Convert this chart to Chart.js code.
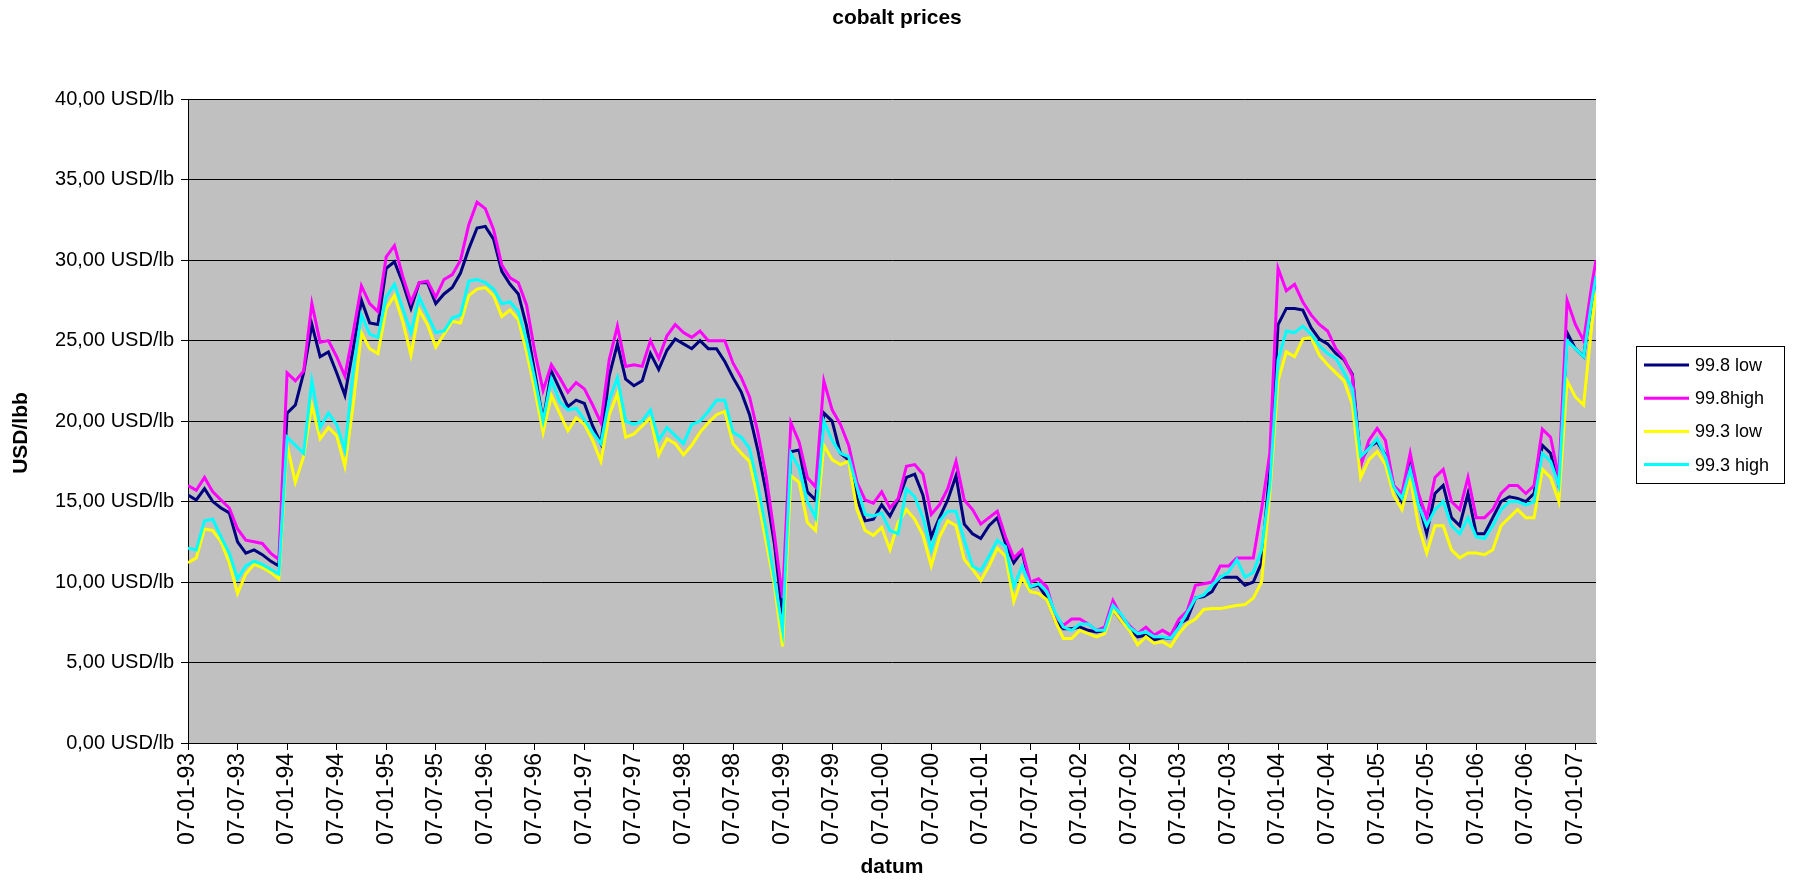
<!DOCTYPE html>
<html>
<head>
<meta charset="utf-8">
<title>cobalt prices</title>
<script src="https://cdn.jsdelivr.net/npm/chart.js@4.4.1/dist/chart.umd.min.js"></script>
<style>
  html, body { margin: 0; padding: 0; background: #fff; }
  #wrap { width: 1794px; height: 880px; }
</style>
</head>
<body>
<div id="wrap"><canvas id="chart" width="1794" height="880"></canvas></div>
<script>
// cobalt prices, monthly readings (month 0 = 07-01-93)
const seriesNames = ['99.8 low', '99.8high', '99.3 low', '99.3 high'];
const seriesColors = ['#000080', '#FF00FF', '#FFFF00', '#00FFFF'];

// month index of every reading, the last one is the final week shown
const months = [...Array(171).keys(), 170.5];

const low998 = [
  15.4, 15.1, 15.8, 15.0, 14.6, 14.3, 12.5, 11.8, 12.0, 11.7, 11.3, 11.0,
  20.5, 21.0, 23.0, 26.0, 24.0, 24.3, 23.0, 21.6, 24.5, 27.5, 26.1, 26.0,
  29.5, 29.9, 28.6, 27.0, 28.6, 28.6, 27.3, 27.9, 28.3, 29.2, 30.7, 32.0,
  32.1, 31.3, 29.3, 28.5, 27.9, 25.9, 23.0, 20.0, 23.1, 22.0, 20.9, 21.3,
  21.1, 19.7, 18.6, 22.8, 24.8, 22.6, 22.2, 22.5, 24.2, 23.2, 24.4, 25.1,
  24.8, 24.5, 25.0, 24.5, 24.5, 23.7, 22.7, 21.8, 20.4, 18.2, 15.6, 12.4,
  8.0, 18.1, 18.2, 15.6, 15.1, 20.5, 20.0, 18.0, 17.6, 15.2, 13.8, 13.9,
  14.8, 14.1, 15.1, 16.5, 16.7, 15.4, 12.8, 14.0, 15.1, 16.6, 13.6, 13.0,
  12.7, 13.5, 14.0, 12.4, 11.2, 11.9, 9.7, 9.8, 9.0, 7.6, 7.1, 7.1,
  7.2, 7.0, 6.9, 7.0, 8.3, 7.6, 7.1, 6.6, 6.7, 6.4, 6.55, 6.5,
  7.4, 7.7, 9.0, 9.1, 9.4, 10.3, 10.3, 10.3, 9.8, 10.0, 11.2, 17.0,
  26.0, 27.0, 27.0, 26.9, 25.8, 25.1, 24.8, 24.2, 23.8, 22.9, 17.5, 18.4,
  18.7, 17.9, 16.0, 15.0, 17.3, 15.0, 13.0, 15.5, 16.0, 14.0, 13.5, 15.5,
  13.0, 13.0, 14.0, 15.0, 15.3, 15.2, 15.0, 15.5, 18.5, 18.0, 16.0, 25.5,
  24.5, 24.0, 27.5, 29.0
];

const high998 = [
  16.0, 15.7, 16.5, 15.6, 15.1, 14.6, 13.3, 12.6, 12.5, 12.4, 11.8, 11.4,
  23.0, 22.5, 23.1, 27.3, 24.9, 25.0, 24.0, 22.8, 25.5, 28.4, 27.3, 26.8,
  30.2, 30.9, 29.0, 27.4, 28.6, 28.7, 27.7, 28.8, 29.1, 30.0, 32.2, 33.6,
  33.2, 31.9, 29.7, 28.9, 28.6, 27.2, 24.3, 21.9, 23.5, 22.7, 21.8, 22.4,
  22.0, 21.0, 19.9, 23.8, 25.9, 23.4, 23.5, 23.4, 25.0, 23.9, 25.3, 26.0,
  25.5, 25.2, 25.6, 25.0, 25.0, 25.0, 23.6, 22.7, 21.5, 19.3, 16.6, 13.0,
  9.0, 19.9, 18.7, 16.5, 15.9, 22.5, 20.7, 19.8, 18.5, 16.2, 15.1, 14.9,
  15.6, 14.6, 15.2, 17.2, 17.3, 16.7, 14.2, 14.8, 15.8, 17.5, 15.1, 14.5,
  13.6, 14.0, 14.4, 12.8, 11.5, 12.0, 10.0, 10.2, 9.7, 7.9, 7.3, 7.7,
  7.7, 7.4, 7.0, 7.2, 8.85, 7.9, 7.3, 6.8, 7.2, 6.7, 7.0, 6.7,
  7.7, 8.2, 9.8, 9.9, 10.0, 11.0, 11.0, 11.5, 11.5, 11.5, 14.5, 18.0,
  29.5, 28.1, 28.5, 27.4, 26.6, 26.0, 25.6, 24.5, 23.9, 22.8, 17.2, 18.8,
  19.55, 18.8, 16.0, 15.5, 18.0, 15.5, 14.0, 16.5, 17.0, 15.0, 14.5, 16.5,
  14.0, 14.0, 14.5, 15.5, 16.0, 16.0, 15.5, 16.0, 19.5, 19.0, 16.5, 27.5,
  26.0, 25.0, 28.5, 30.0
];

const low993 = [
  11.2, 11.5, 13.3, 13.2, 12.5, 11.2, 9.3, 10.5, 11.1, 10.9, 10.6, 10.2,
  18.5, 16.2, 17.8, 21.0, 18.9, 19.6, 19.1, 17.2, 21.0, 25.5, 24.5, 24.2,
  27.0, 27.8, 26.2, 24.1, 26.9, 26.0, 24.6, 25.4, 26.2, 26.1, 27.8, 28.2,
  28.3, 27.8, 26.5, 26.9, 26.3, 24.3, 21.9, 19.3, 21.6, 20.5, 19.4, 20.2,
  19.8, 18.8, 17.5, 20.4, 21.7, 19.0, 19.2, 19.7, 20.2, 17.9, 18.9, 18.6,
  17.9, 18.5, 19.3, 19.9, 20.4, 20.6, 18.6, 18.0, 17.5, 15.2, 12.5, 9.8,
  6.0, 16.6, 16.2, 13.7, 13.2, 18.5, 17.6, 17.3, 17.5, 14.5, 13.2, 12.9,
  13.4, 12.0, 13.7, 14.5, 13.9, 12.9, 11.0, 12.8, 13.8, 13.5, 11.4, 10.8,
  10.1, 11.0, 12.1, 11.6, 8.8, 10.3, 9.4, 9.3, 8.9, 7.6, 6.5, 6.5,
  7.0, 6.8, 6.6, 6.8, 8.3, 7.6, 7.0, 6.1, 6.6, 6.2, 6.3, 6.0,
  6.8, 7.4, 7.7, 8.3, 8.35, 8.35, 8.45, 8.55, 8.6, 9.0, 10.0, 15.5,
  22.5, 24.3, 24.0, 25.1, 25.2, 24.1, 23.5, 23.0, 22.5, 21.0, 16.5, 17.6,
  18.1, 17.3, 15.4, 14.5, 16.5, 13.5, 11.8, 13.5, 13.5, 12.0, 11.5, 11.8,
  11.8, 11.7, 12.0, 13.5, 14.0, 14.5, 14.0, 14.0, 17.0, 16.5, 15.0, 22.5,
  21.5, 21.0, 26.0, 28.0
];

const high993 = [
  12.1, 12.0, 13.8, 13.9, 12.8, 11.8, 10.2, 11.0, 11.3, 11.1, 10.8, 10.5,
  19.0, 18.5, 18.0, 22.5, 19.6, 20.5, 19.8, 18.2, 23.1, 26.6, 25.4, 25.2,
  27.7, 28.5, 27.0, 25.5, 27.7, 26.6, 25.5, 25.6, 26.4, 26.6, 28.7, 28.8,
  28.6, 28.2, 27.3, 27.4, 26.8, 25.0, 22.6, 20.0, 22.6, 21.2, 20.7, 20.8,
  20.1, 19.3, 18.6, 21.3, 22.7, 20.0, 19.8, 20.0, 20.7, 18.8, 19.6, 19.1,
  18.6, 19.8, 20.0, 20.6, 21.3, 21.3, 19.3, 19.0, 18.3, 16.0, 13.3, 10.2,
  7.0, 18.0, 17.1, 15.0, 14.0, 20.0, 18.8, 18.0, 17.8, 15.9, 14.2, 14.1,
  14.3, 13.2, 13.0, 15.8, 15.3, 14.0, 12.0, 13.8, 14.4, 14.4, 12.6, 11.0,
  10.7, 11.6, 12.6, 12.2, 9.7, 11.0, 9.7, 9.9, 9.4, 8.1, 7.2, 7.0,
  7.4, 7.4, 7.0, 7.0, 8.55, 8.0, 7.2, 6.8, 6.9, 6.6, 6.6, 6.5,
  7.2, 8.1, 9.0, 9.2, 9.8, 10.3, 10.6, 11.4, 10.3, 10.6, 12.0, 16.0,
  23.8, 25.6, 25.5, 25.9, 25.4, 24.7, 24.2, 23.9, 23.0, 22.0, 17.8, 18.3,
  18.9, 17.8, 15.9, 15.2, 17.0, 14.8, 13.5, 14.5, 15.0, 13.5, 13.0, 14.0,
  12.8, 12.7, 13.5, 14.5, 15.0, 15.0, 14.8, 15.0, 18.0, 17.5, 16.0, 25.0,
  24.5, 24.0, 27.5, 29.0
];

const seriesValues = [low998, high998, low993, high993];

// x axis: one label every six months
const tickMonths = [0, 6, 12, 18, 24, 30, 36, 42, 48, 54, 60, 66, 72, 78, 84, 90, 96,
  102, 108, 114, 120, 126, 132, 138, 144, 150, 156, 162, 168];
const tickLabels = ['07-01-93', '07-07-93', '07-01-94', '07-07-94', '07-01-95', '07-07-95',
  '07-01-96', '07-07-96', '07-01-97', '07-07-97', '07-01-98', '07-07-98', '07-01-99',
  '07-07-99', '07-01-00', '07-07-00', '07-01-01', '07-07-01', '07-01-02', '07-07-02',
  '07-01-03', '07-07-03', '07-01-04', '07-07-04', '07-01-05', '07-07-05', '07-01-06',
  '07-07-06', '07-01-07'];

const yMin = 0, yMax = 40, yStep = 5;
const yTitle = 'USD/lbb';

const FONT = '"Liberation Sans", Arial, Helvetica, sans-serif';
Chart.defaults.font.family = FONT;
Chart.defaults.color = '#000';

// white page + grey plot area
const backgrounds = {
  id: 'backgrounds',
  beforeDraw(chart) {
    const { ctx, chartArea: a } = chart;
    ctx.save();
    ctx.fillStyle = '#ffffff';
    ctx.fillRect(0, 0, chart.width, chart.height);
    ctx.fillStyle = '#C0C0C0';
    ctx.fillRect(a.left, a.top, a.right - a.left, a.bottom - a.top);
    ctx.restore();
  }
};

// y title sits a little below the middle of the axis in the original
const yAxisTitle = {
  id: 'yAxisTitle',
  afterDraw(chart) {
    const ctx = chart.ctx;
    ctx.save();
    ctx.translate(21, 433);
    ctx.rotate(-Math.PI / 2);
    ctx.font = 'bold 21px ' + FONT;
    ctx.fillStyle = '#000';
    ctx.textAlign = 'center';
    ctx.textBaseline = 'middle';
    ctx.fillText(yTitle, 0, 0);
    ctx.restore();
  }
};

// boxed legend at the right, like the spreadsheet one
const boxedLegend = {
  id: 'boxedLegend',
  afterDraw(chart) {
    const ctx = chart.ctx;
    const x = 1636, y = 346, w = 148, h = 137;
    ctx.save();
    ctx.fillStyle = '#ffffff';
    ctx.fillRect(x, y, w, h);
    ctx.strokeStyle = '#000';
    ctx.lineWidth = 1;
    ctx.strokeRect(x + 0.5, y + 0.5, w, h);
    ctx.font = '18px ' + FONT;
    ctx.textBaseline = 'middle';
    chart.data.datasets.forEach((ds, i) => {
      const yy = y + 19 + i * 33.2;
      ctx.strokeStyle = ds.borderColor;
      ctx.lineWidth = 3;
      ctx.beginPath();
      ctx.moveTo(x + 8, yy);
      ctx.lineTo(x + 53, yy);
      ctx.stroke();
      ctx.fillStyle = '#000';
      ctx.fillText(ds.label, x + 59, yy + 1);
    });
    ctx.restore();
  }
};

const datasets = seriesNames.map((name, i) => ({
  label: name,
  data: months.map((m, k) => ({ x: m, y: seriesValues[i][k] })),
  borderColor: seriesColors[i],
  backgroundColor: seriesColors[i],
  borderWidth: 3,
  pointRadius: 0,
  tension: 0,
  yAxisID: 'y',
  // cyan drawn last, navy first
  order: 4 - i
}));

new Chart(document.getElementById('chart'), {
  type: 'line',
  data: { datasets },
  plugins: [backgrounds, yAxisTitle, boxedLegend],
  options: {
    responsive: false,
    devicePixelRatio: 1,
    animation: false,
    layout: { padding: 0 },
    plugins: {
      legend: { display: false },
      tooltip: { enabled: false },
      title: {
        display: true,
        text: 'cobalt prices',
        color: '#000',
        font: { size: 21, weight: 'bold' },
        padding: { top: 6, bottom: 68 }
      }
    },
    scales: {
      x: {
        type: 'linear',
        min: 0,
        max: 170.5,
        afterBuildTicks(scale) {
          scale.ticks = tickMonths.map(v => ({ value: v }));
        },
        afterFit(scale) { scale.height = 137; },
        ticks: {
          autoSkip: false,
          minRotation: 90,
          maxRotation: 90,
          padding: 3,
          color: '#000',
          font: { size: 23 },
          callback: (v, i) => tickLabels[i]
        },
        grid: { drawOnChartArea: false, drawTicks: true, tickLength: 7, color: '#000' },
        border: { display: true, color: '#000', width: 1 },
        title: {
          display: true,
          text: 'datum',
          color: '#000',
          font: { size: 21, weight: 'bold' },
          padding: { top: 0, bottom: 0 }
        }
      },
      y: {
        position: 'left',
        min: yMin,
        max: yMax,
        afterFit(scale) { scale.width = 188; },
        ticks: {
          stepSize: yStep,
          padding: 7,
          color: '#000',
          font: { size: 20 },
          callback: v => v.toFixed(2).replace('.', ',') + ' USD/lb'
        },
        grid: { color: '#000', lineWidth: 1, drawTicks: true, tickLength: 7 },
        border: { display: true, color: '#000', width: 1 }
      },
      // empty right-hand column that holds the legend
      legendSpace: {
        position: 'right',
        display: true,
        min: yMin,
        max: yMax,
        afterFit(scale) { scale.width = 198; },
        ticks: { display: false },
        grid: { display: false, drawTicks: false },
        border: { display: false }
      }
    }
  }
});
</script>
</body>
</html>
